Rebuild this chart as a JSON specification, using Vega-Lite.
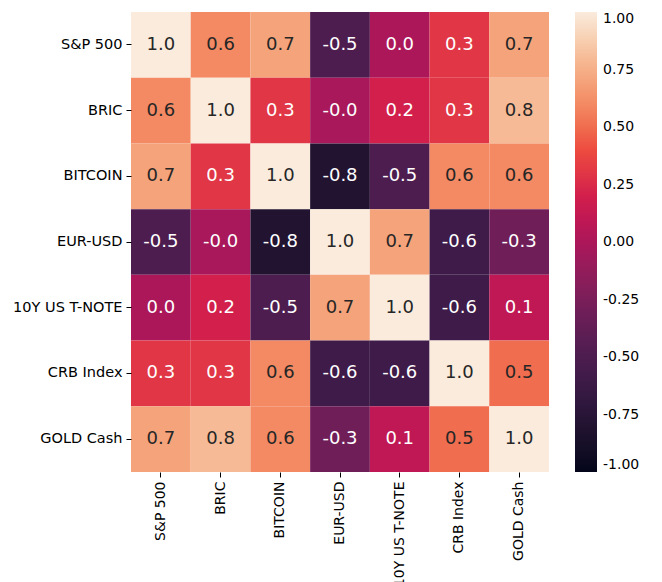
{
  "$schema": "https://vega.github.io/schema/vega-lite/v6.json",
  "width": 418,
  "height": 460,
  "padding": {"left": 12, "top": 12, "right": 5, "bottom": 5},
  "background": "white",
  "config": {"view": {"stroke": null}, "font": "DejaVu Sans"},
  "data": {"values": [
    {"r":"S&P 500","c":"S&P 500","v":1.0},{"r":"S&P 500","c":"BRIC","v":0.6},{"r":"S&P 500","c":"BITCOIN","v":0.7},{"r":"S&P 500","c":"EUR-USD","v":-0.5},{"r":"S&P 500","c":"10Y US T-NOTE","v":0.0},{"r":"S&P 500","c":"CRB Index","v":0.3},{"r":"S&P 500","c":"GOLD Cash","v":0.7},
    {"r":"BRIC","c":"S&P 500","v":0.6},{"r":"BRIC","c":"BRIC","v":1.0},{"r":"BRIC","c":"BITCOIN","v":0.3},{"r":"BRIC","c":"EUR-USD","v":-0.02,"t":"-0.0"},{"r":"BRIC","c":"10Y US T-NOTE","v":0.2},{"r":"BRIC","c":"CRB Index","v":0.3},{"r":"BRIC","c":"GOLD Cash","v":0.8},
    {"r":"BITCOIN","c":"S&P 500","v":0.7},{"r":"BITCOIN","c":"BRIC","v":0.3},{"r":"BITCOIN","c":"BITCOIN","v":1.0},{"r":"BITCOIN","c":"EUR-USD","v":-0.8},{"r":"BITCOIN","c":"10Y US T-NOTE","v":-0.5},{"r":"BITCOIN","c":"CRB Index","v":0.6},{"r":"BITCOIN","c":"GOLD Cash","v":0.6},
    {"r":"EUR-USD","c":"S&P 500","v":-0.5},{"r":"EUR-USD","c":"BRIC","v":-0.02,"t":"-0.0"},{"r":"EUR-USD","c":"BITCOIN","v":-0.8},{"r":"EUR-USD","c":"EUR-USD","v":1.0},{"r":"EUR-USD","c":"10Y US T-NOTE","v":0.7},{"r":"EUR-USD","c":"CRB Index","v":-0.6},{"r":"EUR-USD","c":"GOLD Cash","v":-0.3},
    {"r":"10Y US T-NOTE","c":"S&P 500","v":0.0},{"r":"10Y US T-NOTE","c":"BRIC","v":0.2},{"r":"10Y US T-NOTE","c":"BITCOIN","v":-0.5},{"r":"10Y US T-NOTE","c":"EUR-USD","v":0.7},{"r":"10Y US T-NOTE","c":"10Y US T-NOTE","v":1.0},{"r":"10Y US T-NOTE","c":"CRB Index","v":-0.6},{"r":"10Y US T-NOTE","c":"GOLD Cash","v":0.1},
    {"r":"CRB Index","c":"S&P 500","v":0.3},{"r":"CRB Index","c":"BRIC","v":0.3},{"r":"CRB Index","c":"BITCOIN","v":0.6},{"r":"CRB Index","c":"EUR-USD","v":-0.6},{"r":"CRB Index","c":"10Y US T-NOTE","v":-0.6},{"r":"CRB Index","c":"CRB Index","v":1.0},{"r":"CRB Index","c":"GOLD Cash","v":0.5},
    {"r":"GOLD Cash","c":"S&P 500","v":0.7},{"r":"GOLD Cash","c":"BRIC","v":0.8},{"r":"GOLD Cash","c":"BITCOIN","v":0.6},{"r":"GOLD Cash","c":"EUR-USD","v":-0.3},{"r":"GOLD Cash","c":"10Y US T-NOTE","v":0.1},{"r":"GOLD Cash","c":"CRB Index","v":0.5},{"r":"GOLD Cash","c":"GOLD Cash","v":1.0}
  ]},
  "transform": [{"calculate": "datum.t ? datum.t : replace(format(datum.v, '.1f'), '\u2212', '-')", "as": "label"}],
  "encoding": {
    "x": {"field": "c", "type": "nominal", "sort": ["S&P 500","BRIC","BITCOIN","EUR-USD","10Y US T-NOTE","CRB Index","GOLD Cash"], "title": null,
      "axis": {"labelAngle": -90, "labelFontSize": 14, "labelColor": "black", "domain": false, "tickColor": "black", "tickSize": 5, "labelPadding": 4}},
    "y": {"field": "r", "type": "nominal", "sort": ["S&P 500","BRIC","BITCOIN","EUR-USD","10Y US T-NOTE","CRB Index","GOLD Cash"], "title": null,
      "axis": {"labelFontSize": 14.5, "labelColor": "black", "domain": false, "tickColor": "black", "tickSize": 5, "labelPadding": 4}}
  },
  "layer": [
    {"mark": {"type": "rect"},
     "encoding": {"color": {"field": "v", "type": "quantitative",
       "scale": {"domain": [-1,-0.8,-0.6,-0.4,-0.2,0,0.2,0.4,0.6,0.8,1], "range": ["#03051a","#221331","#3e1b48","#5d1e54","#841e5a","#ac1759","#d21f4c","#ed4b3f","#f38a63","#f6bb96","#faebdd"]},
       "legend": {"title": null, "gradientLength": 460, "gradientThickness": 22, "values": [-1,-0.75,-0.5,-0.25,0,0.25,0.5,0.75,1], "labelExpr": "replace(format(datum.value, '.2f'), '\u2212', '-')", "labelFontSize": 14, "labelColor": "black", "offset": 26, "gradientStrokeWidth": 0, "labelOffset": 6}}}},
    {"mark": {"type": "text", "fontSize": 18},
     "encoding": {"text": {"field": "label"},
       "color": {"condition": {"test": "datum.v >= 0.45", "value": "#262626"}, "value": "white"}}}
  ]
}
